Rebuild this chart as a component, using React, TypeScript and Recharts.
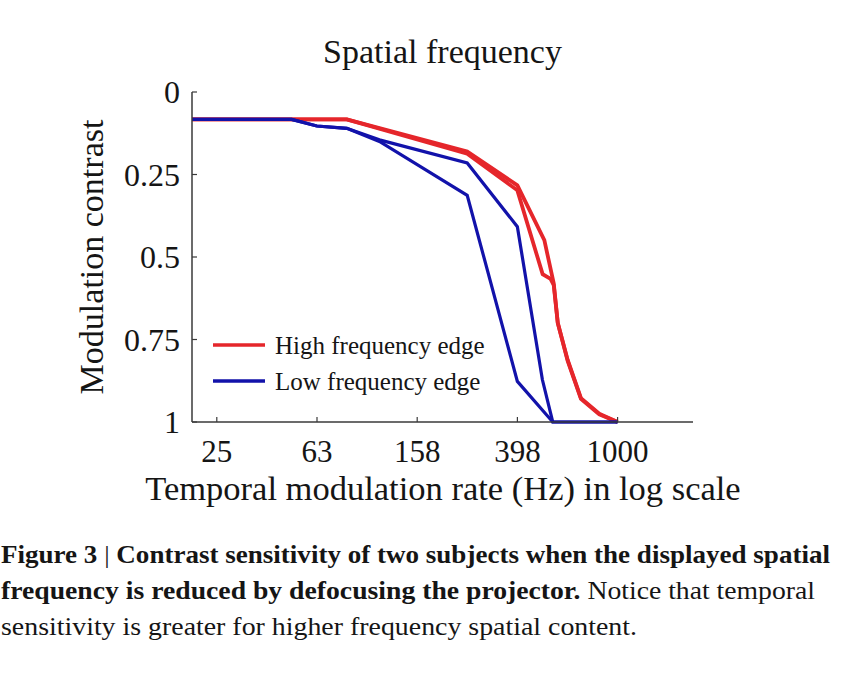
import React from 'react';
import { LineChart, Line, XAxis, YAxis, Legend } from 'recharts';

// ---- data (frequency in Hz, modulation contrast) ----
const highEdgeA = [
  { f: 20, v: 0.083 },
  { f: 83, v: 0.083 },
  { f: 251, v: 0.18 },
  { f: 398, v: 0.283 },
  { f: 510, v: 0.449 },
  { f: 556, v: 0.58 },
  { f: 577, v: 0.7 },
  { f: 632, v: 0.812 },
  { f: 714, v: 0.928 },
  { f: 845, v: 0.975 },
  { f: 1000, v: 1 },
];
const highEdgeB = [
  { f: 20, v: 0.083 },
  { f: 83, v: 0.083 },
  { f: 251, v: 0.187 },
  { f: 398, v: 0.298 },
  { f: 502, v: 0.552 },
  { f: 540, v: 0.566 },
  { f: 556, v: 0.585 },
  { f: 577, v: 0.7 },
  { f: 632, v: 0.815 },
  { f: 714, v: 0.93 },
  { f: 845, v: 0.977 },
  { f: 1000, v: 1 },
];
const lowEdgeA = [
  { f: 20, v: 0.083 },
  { f: 50, v: 0.083 },
  { f: 63, v: 0.103 },
  { f: 83, v: 0.11 },
  { f: 112, v: 0.145 },
  { f: 251, v: 0.215 },
  { f: 398, v: 0.408 },
  { f: 501, v: 0.872 },
  { f: 551, v: 1 },
  { f: 1000, v: 1 },
];
const lowEdgeB = [
  { f: 20, v: 0.083 },
  { f: 50, v: 0.083 },
  { f: 63, v: 0.103 },
  { f: 83, v: 0.11 },
  { f: 112, v: 0.15 },
  { f: 251, v: 0.313 },
  { f: 398, v: 0.877 },
  { f: 551, v: 1 },
  { f: 1000, v: 1 },
];

const xTicks = [25.12, 63.1, 158.49, 398.11, 1000];
const xTickLabels = ['25', '63', '158', '398', '1000'];
const yTicks = [0, 0.25, 0.5, 0.75, 1];
const yTickLabels = ['0', '0.25', '0.5', '0.75', '1'];
const legendLabels = ['High frequency edge', 'Low frequency edge'];
const titleText = 'Spatial frequency';
const xLabelText = 'Temporal modulation rate (Hz) in log scale';
const yLabelText = 'Modulation contrast';
const captionLine1Bold = 'Figure 3';
const captionLine1Rest = 'Contrast sensitivity of two subjects when the displayed spatial';
const captionLine2Bold = 'frequency is reduced by defocusing the projector.';
const captionLine2Rest = ' Notice that temporal';
const captionLine3 = 'sensitivity is greater for higher frequency spatial content.';

// ---- styles ----
const RED = '#e5262b';
const BLUE = '#1212aa';
const AXIS = '#3a3a3a';
const TEXT = '#151515';
const SERIF = '"Liberation Serif", "Times New Roman", serif';

const LegendBox = () => (
  <svg width={320} height={80} style={{ display: 'block' }}>
    {[RED, BLUE].map((c, i) => (
      <g key={i}>
        <line x1={13} x2={65} y1={25 + i * 36} y2={25 + i * 36} stroke={c} strokeWidth={3.5} />
        <text x={75} y={34 + i * 36} fontSize={25} fontFamily={SERIF} fill={TEXT}>
          {legendLabels[i]}
        </text>
      </g>
    ))}
  </svg>
);

export default function App() {
  return (
    <div style={{ position: 'absolute', left: 0, top: 0, width: 850, height: 681, background: '#fff', overflow: 'hidden' }}>
      <LineChart width={850} height={681} margin={{ top: 92, right: 157, bottom: 229, left: 132 }}>
        <XAxis
          dataKey="f"
          type="number"
          scale="log"
          domain={[20, 2000]}
          ticks={xTicks}
          interval={0}
          tickFormatter={(_v: number, i: number) => xTickLabels[i]}
          tickSize={-5}
          tickMargin={23}
          axisLine={{ stroke: AXIS, strokeWidth: 1.5 }}
          tickLine={{ stroke: AXIS, strokeWidth: 1.2 }}
          tick={{ fontSize: 31, fontFamily: SERIF, fill: TEXT }}
          allowDataOverflow
        />
        <YAxis
          type="number"
          domain={[0, 1]}
          reversed
          ticks={yTicks}
          interval={0}
          tickFormatter={(_v: number, i: number) => yTickLabels[i]}
          tickSize={-5}
          tickMargin={17}
          axisLine={{ stroke: AXIS, strokeWidth: 1.5 }}
          tickLine={{ stroke: AXIS, strokeWidth: 1.2 }}
          tick={{ fontSize: 32, fontFamily: SERIF, fill: TEXT }}
        />
        <Line data={highEdgeA} dataKey="v" type="linear" stroke={RED} strokeWidth={3.8} dot={false} isAnimationActive={false} legendType="none" />
        <Line data={highEdgeB} dataKey="v" type="linear" stroke={RED} strokeWidth={3.8} dot={false} isAnimationActive={false} legendType="none" />
        <Line data={lowEdgeA} dataKey="v" type="linear" stroke={BLUE} strokeWidth={3.2} dot={false} isAnimationActive={false} legendType="none" />
        <Line data={lowEdgeB} dataKey="v" type="linear" stroke={BLUE} strokeWidth={3.2} dot={false} isAnimationActive={false} legendType="none" />
        <Legend
          layout="vertical"
          align="center"
          verticalAlign="middle"
          wrapperStyle={{ left: 200, top: 320, width: 320, height: 80 }}
          content={() => <LegendBox />}
        />
        <text x={442.5} y={63} textAnchor="middle" fontSize={34} fontFamily={SERIF} fill={TEXT}>
          {titleText}
        </text>
        <text x={443} y={500} textAnchor="middle" fontSize={34.5} fontFamily={SERIF} fill={TEXT}>
          {xLabelText}
        </text>
        <text x={103} y={257} transform="rotate(-90 103 257)" textAnchor="middle" fontSize={34} fontFamily={SERIF} fill={TEXT}>
          {yLabelText}
        </text>
        <text x={1} y={563} fontSize={26} fontFamily={SERIF} fill={TEXT} textLength={829} lengthAdjust="spacingAndGlyphs">
          <tspan fontWeight="bold">{captionLine1Bold}</tspan>
          <tspan fontWeight="normal">{' | '}</tspan>
          <tspan fontWeight="bold">{captionLine1Rest}</tspan>
        </text>
        <text x={1} y={599} fontSize={26} fontFamily={SERIF} fill={TEXT} textLength={814} lengthAdjust="spacingAndGlyphs">
          <tspan fontWeight="bold">{captionLine2Bold}</tspan>
          <tspan fontWeight="normal">{captionLine2Rest}</tspan>
        </text>
        <text x={1} y={635} fontSize={26} fontFamily={SERIF} fill={TEXT} textLength={636} lengthAdjust="spacingAndGlyphs">
          {captionLine3}
        </text>
      </LineChart>
    </div>
  );
}
